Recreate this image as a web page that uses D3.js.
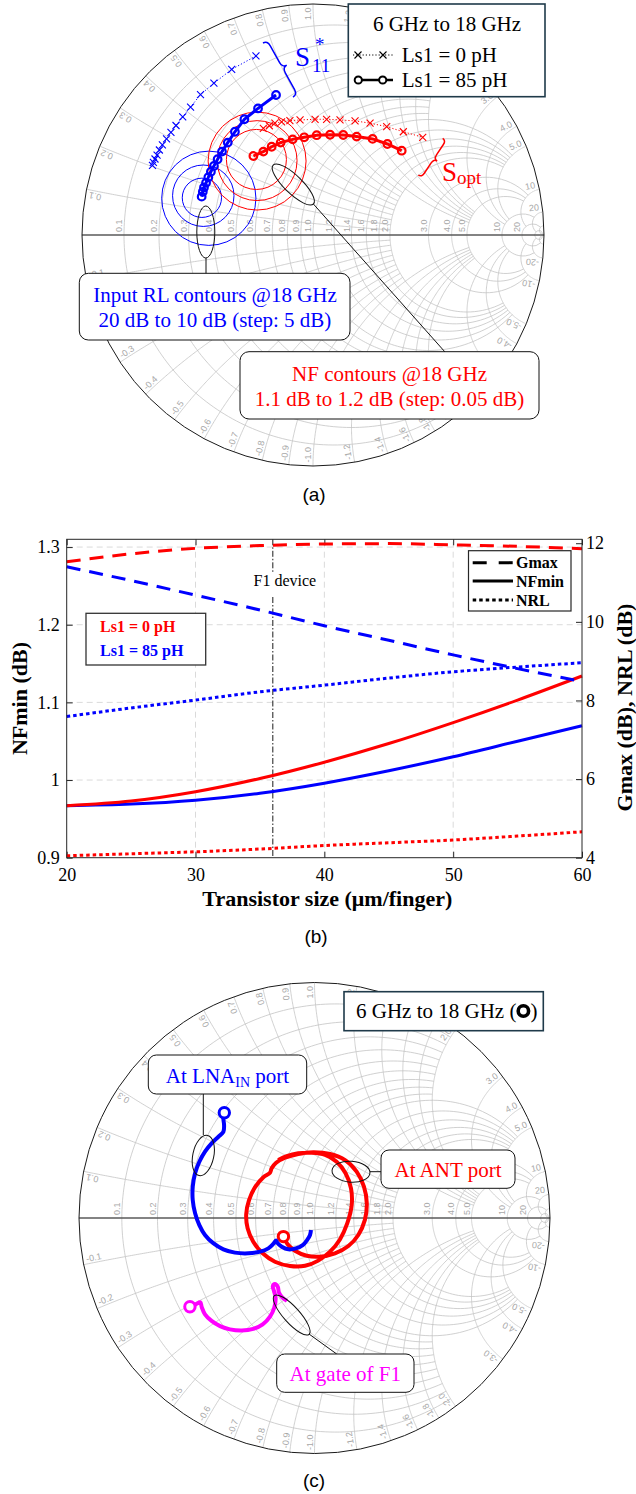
<!DOCTYPE html>
<html>
<head>
<meta charset="utf-8">
<script src="https://cdn.jsdelivr.net/npm/d3@7"></script>
<style>
  body { margin: 0; background: #fff; }
  svg { display: block; }
</style>
</head>
<body>
<svg id="fig" width="636" height="1494"></svg>
<script>
// ---------- data: panel (a), reflection coefficients (re, im) ----------
const s11Ls0Re = [-0.247, -0.352, -0.429, -0.487, -0.530, -0.564, -0.593, -0.615, -0.634, -0.652, -0.665, -0.675, -0.684, -0.691, -0.695];
const s11Ls0Im = [0.775, 0.717, 0.657, 0.608, 0.554, 0.511, 0.474, 0.444, 0.416, 0.390, 0.368, 0.346, 0.329, 0.314, 0.301];
const s11Ls85Re = [-0.160, -0.238, -0.297, -0.338, -0.369, -0.394, -0.413, -0.429, -0.442, -0.453, -0.463, -0.472, -0.477, -0.482];
const s11Ls85Im = [0.606, 0.548, 0.501, 0.447, 0.400, 0.361, 0.328, 0.299, 0.274, 0.250, 0.226, 0.206, 0.187, 0.166];
const soptLs0Re = [-0.215, -0.189, -0.165, -0.136, -0.100, -0.056, 0.009, 0.059, 0.117, 0.182, 0.247, 0.319, 0.391, 0.475];
const soptLs0Im = [0.462, 0.473, 0.484, 0.490, 0.495, 0.498, 0.501, 0.501, 0.498, 0.494, 0.484, 0.469, 0.447, 0.423];
const soptLs85Re = [-0.258, -0.215, -0.179, -0.140, -0.088, -0.038, 0.016, 0.074, 0.131, 0.189, 0.258, 0.322, 0.384];
const soptLs85Im = [0.342, 0.361, 0.382, 0.400, 0.414, 0.423, 0.432, 0.434, 0.433, 0.426, 0.416, 0.394, 0.365];

// contour circles (centre re, centre im, radius) in the Gamma plane
const rlLevels = [20, 15, 10];
const rlCRe = [-0.481, -0.475, -0.451];
const rlCIm = [0.161, 0.170, 0.159];
const rlRad = [0.085, 0.133, 0.204];
const nfLevels = [1.1, 1.15, 1.2];
const nfCRe = [-0.245, -0.242, -0.242];
const nfCIm = [0.327, 0.322, 0.320];
const nfRad = [0.130, 0.173, 0.212];

// ---------- data: panel (b) ----------
const sizes = [20, 25, 30, 35, 40, 45, 50, 55, 60];
const gmaxLs0 = [11.53, 11.73, 11.87, 11.94, 11.98, 11.99, 11.96, 11.92, 11.86];
const gmaxLs85 = [11.40, 11.05, 10.68, 10.30, 9.90, 9.53, 9.16, 8.81, 8.48];
const nfminLs0 = [0.967, 0.973, 0.985, 1.002, 1.023, 1.047, 1.074, 1.103, 1.134];
const nfminLs85 = [0.967, 0.969, 0.974, 0.983, 0.996, 1.012, 1.030, 1.050, 1.070];
const nrlLs0 = [4.05, 4.10, 4.15, 4.22, 4.31, 4.38, 4.45, 4.55, 4.66];
const nrlLs85 = [7.59, 7.81, 8.01, 8.22, 8.39, 8.57, 8.73, 8.85, 8.96];
const f1Size = 36;
const nfTicks = [0.9, 1, 1.1, 1.2, 1.3];
const gTicks = [4, 6, 8, 10, 12];
const sizeTicks = [20, 30, 40, 50, 60];

// ---------- data: panel (c) ----------
const lnaRe = [-0.383, -0.387, -0.384, -0.387, -0.408, -0.437, -0.465, -0.489, -0.507, -0.517, -0.517, -0.507, -0.489, -0.465, -0.430, -0.387, -0.338, -0.281, -0.231, -0.196, -0.175, -0.163, -0.158, -0.139, -0.111, -0.079, -0.050, -0.031, -0.019, -0.015];
const lnaIm = [0.447, 0.423, 0.395, 0.366, 0.345, 0.317, 0.282, 0.239, 0.190, 0.133, 0.076, 0.020, -0.030, -0.072, -0.107, -0.133, -0.147, -0.150, -0.143, -0.129, -0.110, -0.096, -0.105, -0.122, -0.133, -0.129, -0.115, -0.093, -0.072, -0.051];
const antRe = [-0.132, -0.115, -0.083, -0.033, 0.023, 0.087, 0.144, 0.186, 0.214, 0.222, 0.210, 0.179, 0.130, 0.066, -0.005, -0.069, -0.125, -0.163, -0.182, -0.189, -0.217, -0.253, -0.278, -0.290, -0.284, -0.260, -0.220, -0.168, -0.104, -0.040, 0.016, 0.066, 0.108, 0.139, 0.158, 0.155, 0.132, 0.094, 0.045, -0.012, -0.069, -0.118, -0.154];
const antIm = [-0.079, -0.110, -0.139, -0.160, -0.164, -0.150, -0.119, -0.072, -0.008, 0.062, 0.133, 0.197, 0.246, 0.272, 0.279, 0.272, 0.256, 0.235, 0.211, 0.192, 0.173, 0.130, 0.076, 0.017, -0.044, -0.101, -0.150, -0.186, -0.204, -0.203, -0.181, -0.143, -0.091, -0.023, 0.055, 0.126, 0.190, 0.239, 0.268, 0.277, 0.275, 0.263, 0.246];
const gateRe = [-0.529, -0.505, -0.485, -0.479, -0.465, -0.437, -0.401, -0.359, -0.309, -0.260, -0.220, -0.189, -0.171, -0.165, -0.172, -0.177, -0.168, -0.156, -0.151, -0.137, -0.117];
const gateIm = [-0.377, -0.367, -0.358, -0.378, -0.409, -0.437, -0.459, -0.473, -0.478, -0.471, -0.452, -0.419, -0.381, -0.341, -0.310, -0.290, -0.280, -0.292, -0.316, -0.337, -0.352];

// Smith grid values and how far each one is drawn
const smithVals = [0.1, 0.2, 0.3, 0.4, 0.5, 0.6, 0.7, 0.8, 0.9, 1.0, 1.2, 1.4, 1.6, 1.8, 2.0, 3.0, 4.0, 5.0, 10, 20, 50];
const smithLims = [2, 2, 2, 2, 2, 2, 2, 2, 2, 5, 5, 5, 5, 5, 5, 10, 10, 10, 20, 50, Infinity];

const SERIF = "'Liberation Serif','Times New Roman',serif";
const SANS = "'Liberation Sans',Arial,sans-serif";
const RED = "#ff0000", BLUE = "#0000ff", MAG = "#ff00ff";

const svg = d3.select("#fig");
const zip = (a, b) => a.map((v, i) => [v, b[i]]);

// z = r + jx  ->  Gamma
function gam(r, x) {
  const den = (r + 1) * (r + 1) + x * x;
  return [(r * r - 1 + x * x) / den, (2 * x) / den];
}
const fmtVal = (v) => (v < 10 ? v.toFixed(1) : String(v));

function smithChart(cx, cy, R) {
  const sx = d3.scaleLinear().domain([-1, 1]).range([cx - R, cx + R]);
  const sy = d3.scaleLinear().domain([-1, 1]).range([cy + R, cy - R]);
  const g = svg.append("g");
  const line = d3.line().x((d) => sx(d[0])).y((d) => sy(d[1]));
  const grid = g.append("g").attr("fill", "none").attr("stroke", "#c4c4c4").attr("stroke-width", 0.8);

  smithVals.forEach((v, i) => {
    const L = smithLims[i];
    const tmax = L === Infinity ? Math.PI / 2 - 1e-4 : Math.atan(L);
    const rPts = d3.range(201).map((k) => gam(v, Math.tan(-tmax + (2 * tmax * k) / 200)));
    grid.append("path").attr("d", line(rPts));
    [v, -v].forEach((x) => {
      const xPts = d3.range(201).map((k) => gam(Math.tan((tmax * k) / 200), x));
      grid.append("path").attr("d", line(xPts));
    });
  });

  g.append("line")
    .attr("x1", sx(-1)).attr("x2", sx(1)).attr("y1", sy(0)).attr("y2", sy(0))
    .attr("stroke", "#5a5a5a").attr("stroke-width", 1.3);
  g.append("circle")
    .attr("cx", sx(0)).attr("cy", sy(0)).attr("r", R)
    .attr("fill", "none").attr("stroke", "#1a1a1a").attr("stroke-width", 1);

  const lab = g.append("g").attr("fill", "#a8a8a8").attr("font-family", SANS).attr("font-size", 9);
  smithVals.filter((v) => v < 50).forEach((v) => {
    const px = sx((v - 1) / (v + 1)) - 2, py = sy(0) - 3;
    lab.append("text").attr("transform", `translate(${px},${py}) rotate(-90)`).text(fmtVal(v));

    const th = Math.PI - 2 * Math.atan(v);
    [th, -th].forEach((t) => {
      const upper = t > 0;
      const rot = upper ? -t : Math.atan2(Math.sin(t), -Math.cos(t));
      const rr = 0.985;
      const ox = 2 * Math.sin(rot), oy = -2 * Math.cos(rot);
      const px2 = sx(rr * Math.cos(t)) + ox, py2 = sy(rr * Math.sin(t)) + oy;
      lab.append("text")
        .attr("transform", `translate(${px2},${py2}) rotate(${(rot * 180) / Math.PI})`)
        .attr("text-anchor", upper ? "end" : "start")
        .text((upper ? "" : "-") + fmtVal(v));
    });
  });
  return { g, sx, sy };
}

function box(x0, y0, x1, y1, opts = {}) {
  return svg.append("rect")
    .attr("x", x0).attr("y", y0).attr("width", x1 - x0).attr("height", y1 - y0)
    .attr("rx", opts.rx || 0)
    .attr("fill", "#fff").attr("stroke", opts.stroke || "#111").attr("stroke-width", opts.sw || 1);
}

function brace(p1, p2, w, color) {
  const dx = p2[0] - p1[0], dy = p2[1] - p1[1];
  const len = Math.hypot(dx, dy);
  const u = [dx / len, dy / len], n = [u[1], -u[0]];
  const q = w * 0.6;
  const P = (a, b) => [p1[0] + u[0] * a + n[0] * b, p1[1] + u[1] * a + n[1] * b];
  const h = len / 2;
  const d = d3.path();
  d.moveTo(...P(0, 0));
  d.quadraticCurveTo(...P(0, w / 2), ...P(q, w / 2));
  d.lineTo(...P(h - q, w / 2));
  d.quadraticCurveTo(...P(h, w / 2), ...P(h, w));
  d.quadraticCurveTo(...P(h, w / 2), ...P(h + q, w / 2));
  d.lineTo(...P(len - q, w / 2));
  d.quadraticCurveTo(...P(len, w / 2), ...P(len, 0));
  svg.append("path").attr("d", d.toString()).attr("fill", "none").attr("stroke", color).attr("stroke-width", 1.5);
}

const crossPath = "M-3.5,-3.5L3.5,3.5M-3.5,3.5L3.5,-3.5";

// =====================  panel (a)  =====================
{
  const { g, sx, sy } = smithChart(313, 235, 231);
  const rs = (v) => sx(v) - sx(0);
  const lin = d3.line().x((d) => sx(d[0])).y((d) => sy(d[1]));

  g.selectAll("circle.rl").data(rlLevels).join("circle")
    .attr("cx", (d, i) => sx(rlCRe[i])).attr("cy", (d, i) => sy(rlCIm[i])).attr("r", (d, i) => rs(rlRad[i]))
    .attr("fill", "none").attr("stroke", BLUE).attr("stroke-width", 1);
  g.selectAll("circle.nf").data(nfLevels).join("circle")
    .attr("cx", (d, i) => sx(nfCRe[i])).attr("cy", (d, i) => sy(nfCIm[i])).attr("r", (d, i) => rs(nfRad[i]))
    .attr("fill", "none").attr("stroke", RED).attr("stroke-width", 1);

  [[s11Ls0Re, s11Ls0Im, BLUE], [soptLs0Re, soptLs0Im, RED]].forEach(([re, im, col]) => {
    const pts = zip(re, im);
    g.append("path").attr("d", lin(pts)).attr("fill", "none").attr("stroke", col)
      .attr("stroke-width", 1).attr("stroke-dasharray", "1.2,2");
    g.selectAll(null).data(pts).join("path")
      .attr("transform", (d) => `translate(${sx(d[0])},${sy(d[1])})`)
      .attr("d", crossPath).attr("stroke", col).attr("stroke-width", 1.1).attr("fill", "none");
  });
  [[s11Ls85Re, s11Ls85Im, BLUE], [soptLs85Re, soptLs85Im, RED]].forEach(([re, im, col]) => {
    const pts = zip(re, im);
    g.append("path").attr("d", lin(pts)).attr("fill", "none").attr("stroke", col).attr("stroke-width", 3);
    g.selectAll(null).data(pts).join("circle")
      .attr("cx", (d) => sx(d[0])).attr("cy", (d) => sy(d[1])).attr("r", 3.8)
      .attr("fill", "none").attr("stroke", col).attr("stroke-width", 2.2);
  });

  // braces and labels
  brace([263, 43], [293, 97], 10, BLUE);
  svg.append("text").attr("x", 295).attr("y", 66).attr("font-family", SERIF).attr("font-size", 27).attr("fill", BLUE).text("S");
  svg.append("text").attr("x", 312).attr("y", 72).attr("font-family", SERIF).attr("font-size", 19).attr("fill", BLUE).text("11");
  svg.append("text").attr("x", 315).attr("y", 51).attr("font-family", SERIF).attr("font-size", 19).attr("fill", BLUE).text("*");

  brace([442.7, 138.3], [418.3, 175], 8, RED);
  svg.append("text").attr("x", 442).attr("y", 181).attr("font-family", SERIF).attr("font-size", 27).attr("fill", RED).text("S");
  svg.append("text").attr("x", 457).attr("y", 184).attr("font-family", SERIF).attr("font-size", 19).attr("fill", RED).text("opt");

  // callouts
  const ann = svg.append("g").attr("fill", "none").attr("stroke", "#111").attr("stroke-width", 1);
  ann.append("ellipse").attr("cx", 205.8).attr("cy", 232).attr("rx", 9).attr("ry", 26);
  ann.append("line").attr("x1", 206).attr("y1", 258).attr("x2", 206).attr("y2", 274);
  ann.append("ellipse").attr("transform", "translate(293.3,184.5) rotate(44)").attr("rx", 28).attr("ry", 9);
  ann.append("line").attr("x1", 313.4).attr("y1", 204).attr("x2", 445).attr("y2", 352);

  box(79.3, 273.3, 350, 340, { rx: 9 });
  svg.append("text").attr("x", 215).attr("y", 302).attr("text-anchor", "middle").attr("font-family", SERIF).attr("font-size", 21).attr("fill", BLUE).text("Input RL contours @18 GHz");
  svg.append("text").attr("x", 215).attr("y", 327).attr("text-anchor", "middle").attr("font-family", SERIF).attr("font-size", 21).attr("fill", BLUE).text("20 dB to 10 dB (step: 5 dB)");

  box(240, 351.7, 539, 419, { rx: 9 });
  svg.append("text").attr("x", 389.5).attr("y", 381).attr("text-anchor", "middle").attr("font-family", SERIF).attr("font-size", 21).attr("fill", RED).text("NF contours @18 GHz");
  svg.append("text").attr("x", 389.5).attr("y", 406).attr("text-anchor", "middle").attr("font-family", SERIF).attr("font-size", 21).attr("fill", RED).text("1.1 dB to 1.2 dB (step: 0.05 dB)");

  // legend
  box(348.3, 4, 545, 96.7, { stroke: "#1f3a4a", sw: 1.6 });
  svg.append("text").attr("x", 447).attr("y", 30.5).attr("text-anchor", "middle").attr("font-family", SERIF).attr("font-size", 21).text("6 GHz to 18 GHz");
  svg.append("line").attr("x1", 353).attr("x2", 393).attr("y1", 55).attr("y2", 55).attr("stroke", "#000").attr("stroke-width", 1).attr("stroke-dasharray", "1.2,2");
  [358, 383].forEach((x) => svg.append("path").attr("transform", `translate(${x},55)`).attr("d", crossPath).attr("stroke", "#000").attr("stroke-width", 1.1));
  svg.append("text").attr("x", 401.7).attr("y", 62).attr("font-family", SERIF).attr("font-size", 21).text("Ls1 = 0 pH");
  svg.append("line").attr("x1", 354).attr("x2", 393).attr("y1", 80).attr("y2", 80).attr("stroke", "#000").attr("stroke-width", 2.5);
  [358.3, 382.7].forEach((x) => svg.append("circle").attr("cx", x).attr("cy", 80).attr("r", 3.6).attr("fill", "#fff").attr("stroke", "#000").attr("stroke-width", 2));
  svg.append("text").attr("x", 401.7).attr("y", 87).attr("font-family", SERIF).attr("font-size", 21).text("Ls1 = 85 pH");

  svg.append("text").attr("x", 314).attr("y", 501).attr("text-anchor", "middle").attr("font-family", SANS).attr("font-size", 19).text("(a)");
}

// =====================  panel (b)  =====================
{
  const x = d3.scaleLinear().domain([20, 60]).range([66.7, 582]);
  const yL = d3.scaleLinear().domain([0.9, 1.31]).range([857.7, 539.3]);
  const yR = d3.scaleLinear().domain([4, 12.1]).range([857.7, 539.3]);
  const g = svg.append("g");
  const [x0, x1] = x.range(), [y0, y1] = yL.range();

  const gridG = g.append("g").attr("stroke", "#dadada").attr("stroke-width", 1).attr("stroke-dasharray", "6,4");
  sizeTicks.slice(1, -1).forEach((t) => gridG.append("line").attr("x1", x(t)).attr("x2", x(t)).attr("y1", y0).attr("y2", y1));
  nfTicks.slice(1).forEach((t) => gridG.append("line").attr("x1", x0).attr("x2", x1).attr("y1", yL(t)).attr("y2", yL(t)));

  const styleAxis = (sel) => {
    sel.selectAll(".domain").remove();
    sel.selectAll("line").attr("stroke", "#262626");
    sel.selectAll("text").attr("font-family", SERIF).attr("font-size", 18).attr("fill", "#000");
  };
  g.append("g").attr("transform", `translate(${x0},0)`)
    .call(d3.axisLeft(yL).tickValues(nfTicks).tickFormat((d) => (d === 1 ? "1" : d.toFixed(1))).tickSizeInner(-6).tickSizeOuter(0).tickPadding(7))
    .call(styleAxis);
  g.append("g").attr("transform", `translate(${x1},0)`)
    .call(d3.axisRight(yR).tickValues(gTicks).tickSizeInner(-6).tickSizeOuter(0).tickPadding(4))
    .call(styleAxis);
  g.append("g").attr("transform", `translate(0,${y0})`)
    .call(d3.axisBottom(x).tickValues(sizeTicks).tickSizeInner(-6).tickSizeOuter(0).tickPadding(11))
    .call(styleAxis);
  g.append("g").attr("transform", `translate(0,${y1})`)
    .call(d3.axisTop(x).tickValues(sizeTicks).tickFormat("").tickSizeInner(-6).tickSizeOuter(0))
    .call(styleAxis);

  // F1 marker line
  const fx = x(f1Size);
  const f1 = g.append("g").attr("stroke", "#000").attr("stroke-width", 0.9).attr("stroke-dasharray", "6,2,1.5,2");
  f1.append("line").attr("x1", fx).attr("x2", fx).attr("y1", y1).attr("y2", 572);
  f1.append("line").attr("x1", fx).attr("x2", fx).attr("y1", 597).attr("y2", y0);
  g.append("text").attr("x", fx + 12).attr("y", 586).attr("text-anchor", "middle").attr("font-family", SERIF).attr("font-size", 16).text("F1 device");

  const lineR = d3.line().x((d, i) => x(sizes[i])).y((d) => yR(d)).curve(d3.curveMonotoneX);
  const lineL = d3.line().x((d, i) => x(sizes[i])).y((d) => yL(d)).curve(d3.curveMonotoneX);
  const series = [
    [nrlLs0, lineR, RED, "3.5,3"], [nrlLs85, lineR, BLUE, "3.5,3"],
    [nfminLs85, lineL, BLUE, null], [nfminLs0, lineL, RED, null],
    [gmaxLs85, lineR, BLUE, "14,9"], [gmaxLs0, lineR, RED, "14,9"],
  ];
  series.forEach(([vals, ln, col, dash]) => {
    g.append("path").datum(vals).attr("d", ln).attr("fill", "none").attr("stroke", col)
      .attr("stroke-width", 3).attr("stroke-dasharray", dash);
  });

  g.append("rect").attr("x", x0).attr("y", y1).attr("width", x1 - x0).attr("height", y0 - y1)
    .attr("fill", "none").attr("stroke", "#262626").attr("stroke-width", 1);

  // legends
  box(468.5, 550.7, 571, 611, { stroke: "#262626", sw: 1.2 });
  [["Gmax", "14,12", 562.7], ["NFmin", null, 581], ["NRL", "3.5,3", 600]].forEach(([lbl, dash, yy]) => {
    svg.append("line").attr("x1", 472.7).attr("x2", 513).attr("y1", yy).attr("y2", yy)
      .attr("stroke", "#000").attr("stroke-width", 3).attr("stroke-dasharray", dash);
    svg.append("text").attr("x", 516).attr("y", yy + 5.5).attr("font-family", SERIF).attr("font-weight", "bold").attr("font-size", 16).text(lbl);
  });
  box(86, 613.3, 205.7, 665, { stroke: "#333", sw: 1.3 });
  svg.append("text").attr("x", 100).attr("y", 631.5).attr("font-family", SERIF).attr("font-weight", "bold").attr("font-size", 16).attr("fill", RED).text("Ls1 = 0 pH");
  svg.append("text").attr("x", 100).attr("y", 655.8).attr("font-family", SERIF).attr("font-weight", "bold").attr("font-size", 16).attr("fill", BLUE).text("Ls1 = 85 pH");

  svg.append("text").attr("transform", `translate(27,${(y0 + y1) / 2}) rotate(-90)`).attr("text-anchor", "middle")
    .attr("font-family", SERIF).attr("font-weight", "bold").attr("font-size", 22).text("NFmin (dB)");
  svg.append("text").attr("transform", `translate(632,${(y0 + y1) / 2 + 9}) rotate(-90)`).attr("text-anchor", "middle")
    .attr("font-family", SERIF).attr("font-weight", "bold").attr("font-size", 22).text("Gmax (dB), NRL (dB)");
  svg.append("text").attr("x", (x0 + x1) / 2 + 3).attr("y", 906).attr("text-anchor", "middle")
    .attr("font-family", SERIF).attr("font-weight", "bold").attr("font-size", 22).text("Transistor size (μm/finger)");

  svg.append("text").attr("x", 316).attr("y", 943).attr("text-anchor", "middle").attr("font-family", SANS).attr("font-size", 19).text("(b)");
}

// =====================  panel (c)  =====================
{
  const { g, sx, sy } = smithChart(314.5, 1218, 235.5);
  const lin = d3.line().x((d) => sx(d[0])).y((d) => sy(d[1])).curve(d3.curveCatmullRom);
  [[antRe, antIm, RED], [lnaRe, lnaIm, BLUE], [gateRe, gateIm, MAG]].forEach(([re, im, col]) => {
    const pts = zip(re, im);
    g.append("path").attr("d", lin(pts)).attr("fill", "none").attr("stroke", col)
      .attr("stroke-width", 4).attr("stroke-linejoin", "round");
    g.append("circle").attr("cx", sx(pts[0][0])).attr("cy", sy(pts[0][1])).attr("r", 5.2)
      .attr("fill", "#fff").attr("stroke", col).attr("stroke-width", 3);
  });

  const ann = svg.append("g").attr("fill", "none").attr("stroke", "#111").attr("stroke-width", 1);
  ann.append("line").attr("x1", 203.3).attr("y1", 1094).attr("x2", 203.3).attr("y2", 1135);
  ann.append("ellipse").attr("transform", "translate(203.3,1155.5) rotate(12)").attr("rx", 10.5).attr("ry", 20.5);
  ann.append("ellipse").attr("transform", "translate(351,1171.7) rotate(4)").attr("rx", 19).attr("ry", 10.5);
  ann.append("line").attr("x1", 370).attr("y1", 1171.7).attr("x2", 381).attr("y2", 1171.7);
  ann.append("ellipse").attr("transform", "translate(291.7,1315) rotate(48)").attr("rx", 26).attr("ry", 8);
  ann.append("line").attr("x1", 309).attr("y1", 1334).attr("x2", 336.7).attr("y2", 1354);

  box(148.3, 1055, 306.7, 1094, { rx: 8 });
  const t1 = svg.append("text").attr("x", 227.5).attr("y", 1083).attr("text-anchor", "middle")
    .attr("font-family", SERIF).attr("font-size", 21).attr("fill", BLUE);
  t1.append("tspan").text("At LNA");
  t1.append("tspan").attr("font-size", 14).attr("dy", 4).text("IN");
  t1.append("tspan").attr("dy", -4).text(" port");

  box(381, 1150, 515, 1188.3, { rx: 8 });
  svg.append("text").attr("x", 448).attr("y", 1177).attr("text-anchor", "middle").attr("font-family", SERIF).attr("font-size", 21).attr("fill", RED).text("At ANT port");

  box(276.7, 1354, 414, 1392.3, { rx: 8 });
  svg.append("text").attr("x", 345.3).attr("y", 1381).attr("text-anchor", "middle").attr("font-family", SERIF).attr("font-size", 21).attr("fill", MAG).text("At gate of F1");

  box(344, 991.7, 543.3, 1030.7, { stroke: "#1f3a4a", sw: 1.6 });
  const lt = svg.append("text").attr("x", 356).attr("y", 1018).attr("font-family", SERIF).attr("font-size", 21).text("6 GHz to 18 GHz (");
  const w = lt.node().getComputedTextLength();
  svg.append("circle").attr("cx", 356 + w + 7).attr("cy", 1011).attr("r", 5.2).attr("fill", "#fff").attr("stroke", "#000").attr("stroke-width", 3.6);
  svg.append("text").attr("x", 356 + w + 14).attr("y", 1018).attr("font-family", SERIF).attr("font-size", 21).text(")");

  svg.append("text").attr("x", 314).attr("y", 1487).attr("text-anchor", "middle").attr("font-family", SANS).attr("font-size", 19).text("(c)");
}
</script>
</body>
</html>
